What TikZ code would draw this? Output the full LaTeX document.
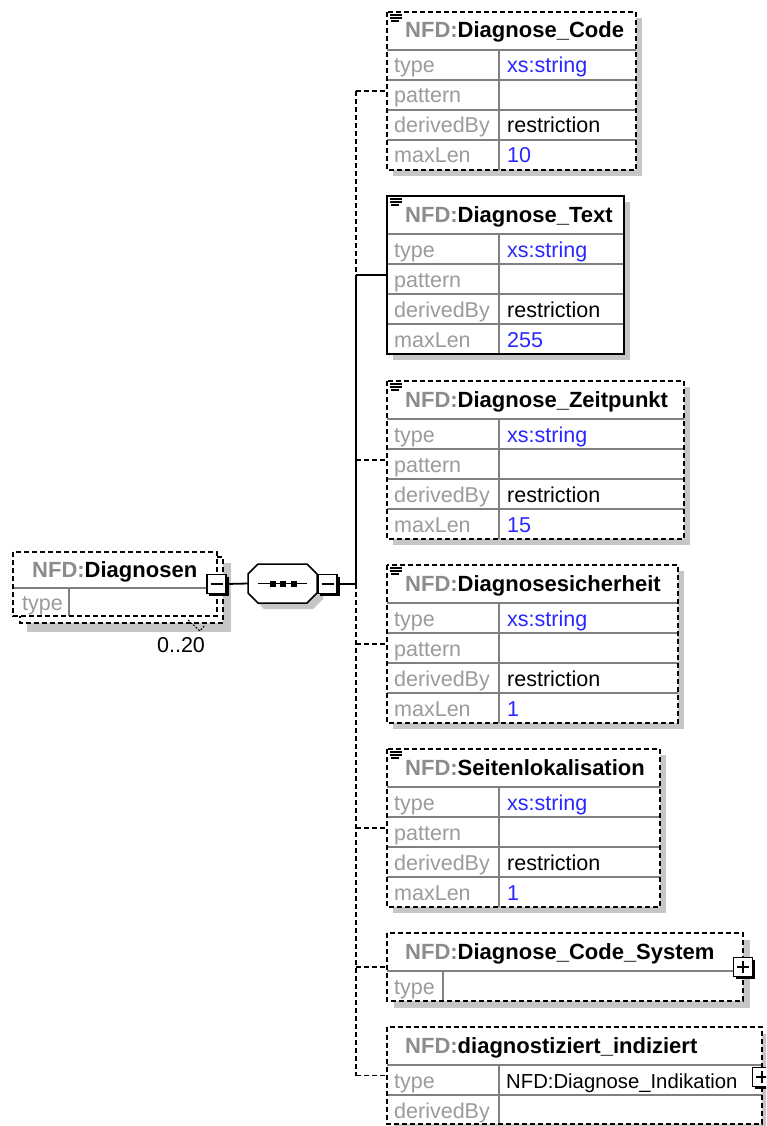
\documentclass[tikz,border=0pt]{standalone}
\usepackage{fontspec}
\setmainfont{Liberation Sans}
\usetikzlibrary{calc}
\definecolor{lbl}{RGB}{155,155,155}
\definecolor{nfd}{RGB}{140,140,140}
\definecolor{valblue}{RGB}{40,40,255}
\definecolor{shad}{RGB}{198,198,198}
\definecolor{rowline}{RGB}{128,128,128}
\tikzset{
  border/.style={line width=1.8pt, draw=black},
  dsh/.style={dash pattern=on 5pt off 3pt},
  rowl/.style={draw=rowline, line width=1.4pt},
  lbltext/.style={anchor=base west, text=lbl, font=\fontsize{21.5}{24}\selectfont, inner sep=0},
  valtext/.style={anchor=base west, font=\fontsize{21.5}{24}\selectfont, inner sep=0},
  bluetext/.style={valtext, text=valblue},
  hdrtext/.style={anchor=base west, font=\fontsize{22}{24}\selectfont\bfseries, inner sep=0},
  conn/.style={line width=1.8pt},
  elem/.style={rectangle, inner sep=0, outer sep=0, anchor=north west},
  pmframe/.style={draw, line width=1.3pt, fill=white, minimum size=19pt, inner sep=0, outer sep=0},
}
\newcommand\hdr[1]{\textcolor{nfd}{NFD:}#1}
% #1 name, #2 x, #3 y, #4 1 = plus
\newcommand\pmbox[4]{%
  \node[pmframe] (#1) at (#2,#3) {};
  \draw[line width=2.6pt] ($(#1.north east)+(1.3,2)$) -- ($(#1.south east)+(1.3,1.3)$) -- ($(#1.south west)+(2,1.3)$);
  \draw[line width=1.4pt] ($(#1.west)+(3.5,0)$) -- ($(#1.east)+(-3.5,0)$);
  \ifnum#4=1 \draw[line width=1.4pt] ($(#1.north)+(0,3.5)$) -- ($(#1.south)+(0,-3.5)$);\fi
}
% #1 name, #2 top y, #3 right x, #4 element name, #5 border style, #6 maxLen
\newcommand\elemfour[6]{%
  \fill[shad] (393,#2+6) rectangle (#3+6,#2+164);
  \node[elem, fill=white, minimum width={#3-387}, minimum height=158] (#1) at (387,#2) {};
  \draw[rowl] (387,#2+38) -- (#3,#2+38);
  \draw[rowl] (387,#2+68) -- (#3,#2+68);
  \draw[rowl] (387,#2+98) -- (#3,#2+98);
  \draw[rowl] (387,#2+128) -- (#3,#2+128);
  \draw[rowl] (499,#2+38) -- (499,#2+158);
  \draw[border,#5] (#1.north west) rectangle (#1.south east);
  \draw[line width=1.2pt] (390,#2+3) -- (402,#2+3) (390,#2+6) -- (402,#2+6) (391,#2+9) -- (399,#2+9);
  \node[hdrtext] (#1-h) at (405,#2+26) {\hdr{#4}};
  \node[lbltext] (#1-l1) at (394,#2+61) {type};
  \node[lbltext] (#1-l2) at (394,#2+91) {pattern};
  \node[lbltext] (#1-l3) at (394,#2+121) {derivedBy};
  \node[lbltext] (#1-l4) at (394,#2+151) {maxLen};
  \node[bluetext] (#1-v1) at (507,#2+61) {xs:string};
  \node[valtext] (#1-v3) at (507,#2+121) {restriction};
  \node[bluetext] (#1-v4) at (507,#2+151) {#6};
}
\begin{document}
\begin{tikzpicture}[x=1pt,y=-1pt]
\clip (0,0) rectangle (766,1126);
\fill[white] (0,0) rectangle (766,1126);
\coordinate (busx) at (356,0);

% element boxes
\elemfour{code}{12}{636}{Diagnose\_Code}{dsh}{10}
\elemfour{text}{196}{624}{Diagnose\_Text}{solid}{255}
\elemfour{zeit}{381}{684}{Diagnose\_Zeitpunkt}{dsh}{15}
\elemfour{sich}{565}{678}{Diagnosesicherheit}{dsh}{1}
\elemfour{seit}{749}{660}{Seitenlokalisation}{dsh}{1}

% Diagnose_Code_System
\fill[shad] (394,940) rectangle (750,1008);
\node[elem, fill=white, minimum width=356, minimum height=68] (csys) at (387,933) {};
\draw[rowl] (387,971) -- (743,971);
\draw[rowl] (443,971) -- (443,1001);
\draw[border,dsh] (csys.north west) rectangle (csys.south east);
\node[hdrtext] (csys-h) at (405,959) {\hdr{Diagnose\_Code\_System}};
\node[lbltext] (csys-l1) at (394,994) {type};
\pmbox{csysp}{743}{967}{1}

% diagnostiziert_indiziert
\fill[shad] (394,1034) rectangle (770,1131);
\node[elem, fill=white, minimum width=375, minimum height=97] (indiz) at (387,1027) {};
\draw[rowl] (387,1065) -- (762,1065);
\draw[rowl] (387,1095) -- (762,1095);
\draw[rowl] (499,1065) -- (499,1124);
\draw[border,dsh] (indiz.north west) rectangle (indiz.south east);
\node[hdrtext] (indiz-h) at (405,1053) {\hdr{diagnostiziert\_indiziert}};
\node[lbltext] (indiz-l1) at (394,1088) {type};
\node[lbltext] (indiz-l2) at (394,1118) {derivedBy};
\node[valtext, font=\fontsize{20.3}{24}\selectfont] (indiz-v1) at (506,1088) {NFD:Diagnose\_Indikation};
\pmbox{indizp}{762}{1077}{1}

% Diagnosen (repeating element)
\fill[shad] (27,563) rectangle (231,632);
\draw[border,dsh,fill=white] (20,557) rectangle (223,623);
\node[elem, fill=white, minimum width=204, minimum height=64] (diagn) at (13,552) {};
\draw[rowl] (13,588) -- (217,588);
\draw[rowl] (69,588) -- (69,616);
\draw[border,dsh] (diagn.north west) rectangle (diagn.south east);
\node[hdrtext] (diagn-h) at (32,577) {\hdr{Diagnosen}};
\node[lbltext] (diagn-l1) at (22,610) {type};
\draw[line width=1pt, dash pattern=on 2pt off 1.5pt] (188,620) -- (200,631) -- (205,625);
\node[font=\fontsize{21.5}{24}\selectfont, inner sep=0] (occ) at (181,645) {0..20};
\pmbox{dminus}{216.5}{584}{0}

% sequence compositor
\node[rectangle, minimum width=69, minimum height=39, inner sep=0, outer sep=0] (seq) at (282.5,583.5) {};
\fill[shad] ($(seq.north west)+(16,6)$) -- ($(seq.north east)+(-4,6)$) -- ($(seq.north east)+(6,16)$) -- ($(seq.south east)+(6,-4)$) -- ($(seq.south east)+(-4,6)$) -- ($(seq.south west)+(16,6)$) -- ($(seq.south west)+(6,-4)$) -- ($(seq.north west)+(6,16)$) -- cycle;
\draw[line width=1.5pt, fill=white] ($(seq.north west)+(10,0)$) -- ($(seq.north east)+(-10,0)$) -- ($(seq.north east)+(0,10)$) -- ($(seq.south east)+(0,-10)$) -- ($(seq.south east)+(-10,0)$) -- ($(seq.south west)+(10,0)$) -- ($(seq.south west)+(0,-10)$) -- ($(seq.north west)+(0,10)$) -- cycle;
\draw[line width=1.6pt] ($(seq.west)+(10,0)$) -- ($(seq.east)+(-10,0)$);
\foreach \dx in {-10,0.5,11} \fill ($(seq.center)+(\dx-3,-3)$) rectangle ($(seq.center)+(\dx+3,3)$);
\pmbox{seqm}{327.5}{584}{0}

% connectors
\draw[conn] (dminus.east) -- (seq.west);
\draw[conn] (seqm.east) -- (seqm.east -| busx);
\draw[conn,dsh] (code.west -| busx) -- (text.west -| busx);
\draw[conn] (text.west -| busx) -- (seqm.east -| busx);
\draw[conn,dsh] (seqm.east -| busx) -- (indiz.west -| busx);
\draw[conn,dsh] (code.west -| busx) -- (code.west);
\draw[conn] (text.west -| busx) -- (text.west);
\draw[conn,dsh] (zeit.west -| busx) -- (zeit.west);
\draw[conn,dsh] (sich.west -| busx) -- (sich.west);
\draw[conn,dsh] (seit.west -| busx) -- (seit.west);
\draw[conn,dsh] (csys.west -| busx) -- (csys.west);
\draw[conn,dsh] (indiz.west -| busx) -- (indiz.west);
\end{tikzpicture}
\end{document}
